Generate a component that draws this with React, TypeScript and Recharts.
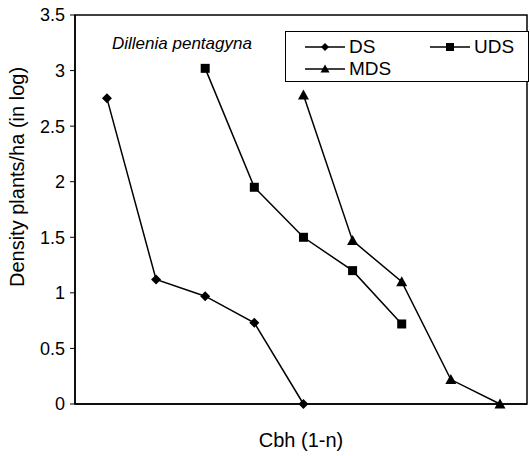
import {
  Line,
  LineChart,
  ReferenceArea,
  XAxis,
  YAxis
} from "recharts";

const cbhClass = [1, 2, 3, 4, 5, 6, 7, 8, 9];
const dsValues = [2.75, 1.12, 0.97, 0.73, 0];
const udsValues = [3.02, 1.95, 1.5, 1.2, 0.72];
const mdsValues = [2.78, 1.47, 1.1, 0.22, 0];
const yTicks = [0, 0.5, 1, 1.5, 2, 2.5, 3, 3.5];

// DS starts at class 1, UDS at class 3, MDS at class 5
const data = cbhClass.map((c, i) => ({
  cbh: c,
  DS: dsValues[i],
  UDS: udsValues[i - 2],
  MDS: mdsValues[i - 4]
}));

const FONT = "'Liberation Sans', Arial, sans-serif";

const Diamond = ({ cx, cy, s = 5 }: { cx: number; cy: number; s?: number }) => (
  <path d={`M${cx},${cy - s} L${cx + s},${cy} L${cx},${cy + s} L${cx - s},${cy} Z`} fill="#000" />
);
const Square = ({ cx, cy, s = 4.5 }: { cx: number; cy: number; s?: number }) => (
  <rect x={cx - s} y={cy - s} width={s * 2} height={s * 2} fill="#000" />
);
const Triangle = ({ cx, cy, s = 5.5 }: { cx: number; cy: number; s?: number }) => (
  <path d={`M${cx},${cy - s} L${cx + s},${cy + s * 0.8} L${cx - s},${cy + s * 0.8} Z`} fill="#000" />
);

const markers: Record<string, typeof Diamond> = { DS: Diamond, UDS: Square, MDS: Triangle };

const LegendItem = ({ name }: { name: string }) => {
  const M = markers[name];
  return (
    <div style={{ display: "flex", alignItems: "center", height: 20 }}>
      <svg width={42} height={14}>
        <line x1={0} y1={7} x2={40} y2={7} stroke="#000" strokeWidth={1.5} />
        <M cx={20} cy={7} s={name === "MDS" ? 4.5 : 4} />
      </svg>
      <span style={{ fontSize: 19, marginLeft: 2 }}>{name}</span>
    </div>
  );
};

const LegendBox = () => (
  <div
    style={{
      position: "absolute",
      left: 285,
      top: 31,
      border: "1.5px solid #000",
      width: 244,
      height: 51,
      boxSizing: "border-box",
      padding: "5px 0 0 19px",
      display: "grid",
      gridTemplateColumns: "125px 100px",
      fontFamily: FONT,
      background: "#fff"
    }}
  >
    <LegendItem name="DS" />
    <LegendItem name="UDS" />
    <LegendItem name="MDS" />
  </div>
);

const renderDot = (name: string) => (p: any) => {
  if (p.cx == null || p.cy == null || p.value == null) return <g key={`${name}-${p.index}`} />;
  const M = markers[name];
  return <M key={`${name}-${p.index}`} cx={p.cx} cy={p.cy} />;
};

export default function App() {
  return (
    <div
      style={{
        position: "absolute",
        left: 0,
        top: 0,
        width: 530,
        height: 456,
        background: "#fff",
        fontFamily: FONT
      }}
    >
      <LineChart
        width={530}
        height={456}
        data={data}
        margin={{ top: 15, right: 3, bottom: 0, left: 0 }}
      >
        <ReferenceArea
          x1={0.35}
          x2={9.55}
          y1={0}
          y2={3.5}
          fill="none"
          stroke="#000"
          strokeWidth={1.5}
        />
        <XAxis
          dataKey="cbh"
          type="number"
          domain={[0.35, 9.55]}
          ticks={[]}
          height={52}
          axisLine={{ stroke: "#000", strokeWidth: 1.5 }}
          label={{
            value: "Cbh (1-n)",
            position: "insideBottom",
            offset: 9,
            fill: "#000",
            fontSize: 20,
            fontFamily: FONT
          }}
        />
        <YAxis
          width={75}
          domain={[0, 3.5]}
          ticks={yTicks}
          interval={0}
          tickSize={5}
          tickLine={{ stroke: "#000" }}
          axisLine={{ stroke: "#000", strokeWidth: 1.5 }}
          tick={{ fill: "#000", fontSize: 18, fontFamily: FONT }}
          tickMargin={5}
        />
        {["DS", "UDS", "MDS"].map((name) => (
          <Line
            key={name}
            dataKey={name}
            stroke="#000"
            strokeWidth={1.5}
            dot={renderDot(name)}
            activeDot={false}
            connectNulls={false}
            legendType="none"
            isAnimationActive={false}
          />
        ))}
        <text
          x={0}
          y={0}
          transform="translate(24,177) rotate(-90)"
          textAnchor="middle"
          fontSize={20}
          fontFamily={FONT}
          fill="#000"
        >
          Density plants/ha (in log)
        </text>
        <text x={112} y={49} fontSize={17} fontStyle="italic" fontFamily={FONT} fill="#000">
          Dillenia pentagyna
        </text>
      </LineChart>
      <LegendBox />
    </div>
  );
}
